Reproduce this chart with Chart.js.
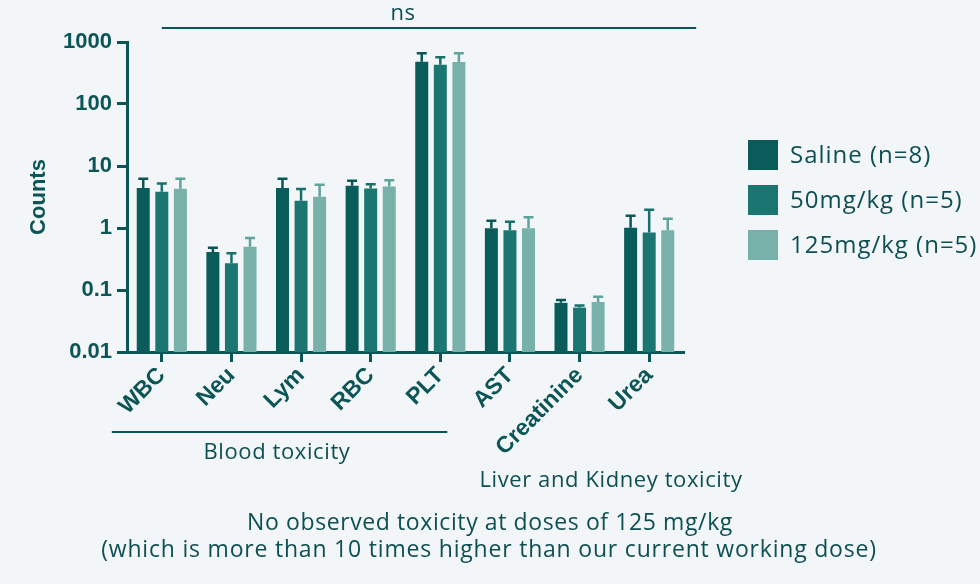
<!DOCTYPE html>
<html>
<head>
<meta charset="utf-8">
<script src="https://cdn.jsdelivr.net/npm/chart.js@4.4.1/dist/chart.umd.min.js"></script>
<style>
  html, body { margin: 0; padding: 0; background: #f3f6f9; }
  #wrap { position: relative; width: 980px; height: 584px; }
</style>
</head>
<body>
<div id="wrap"><canvas id="grafico"></canvas></div>
<script>
// Datos
const categorias = ['WBC', 'Neu', 'Lym', 'RBC', 'PLT', 'AST', 'Creatinine', 'Urea'];
const saline = [4.4, 0.41, 4.4, 4.8, 480, 0.99, 0.062, 1.01];
const salineSup = [6.2, 0.48, 6.2, 5.8, 660, 1.31, 0.069, 1.58];
const mg50 = [3.85, 0.27, 2.75, 4.35, 430, 0.92, 0.052, 0.85];
const mg50Sup = [5.2, 0.39, 4.25, 5.1, 570, 1.26, 0.056, 1.97];
const mg125 = [4.3, 0.50, 3.2, 4.65, 475, 0.99, 0.064, 0.92];
const mg125Sup = [6.2, 0.69, 5.0, 5.9, 660, 1.49, 0.078, 1.41];
const yTicks = [0.01, 0.1, 1, 10, 100, 1000];
const yTickLabels = ['0.01', '0.1', '1', '10', '100', '1000'];

const tinta = '#0b5556';
const texto = '#0d4f52';

// Barras de error (solo hacia arriba)
const barrasError = {
    id: 'barrasError',
    afterDatasetsDraw(chart) {
        const ctx = chart.ctx;
        const y = chart.scales.y;
        chart.data.datasets.forEach((ds, i) => {
            const meta = chart.getDatasetMeta(i);
            ctx.save();
            ctx.strokeStyle = ds.errorColor;
            ctx.lineWidth = 2.5;
            meta.data.forEach((bar, j) => {
                const top = y.getPixelForValue(ds.upper[j]);
                ctx.beginPath();
                ctx.moveTo(bar.x, bar.y);
                ctx.lineTo(bar.x, top);
                ctx.moveTo(bar.x - 5, top);
                ctx.lineTo(bar.x + 5, top);
                ctx.stroke();
            });
            ctx.restore();
        });
    }
};

// Anotaciones, leyenda y textos
const anotaciones = {
    id: 'anotaciones',
    afterDraw(chart) {
        const ctx = chart.ctx;
        const x = chart.scales.x;
        ctx.save();
        ctx.strokeStyle = tinta;
        ctx.lineWidth = 2;
        // línea ns
        ctx.beginPath();
        ctx.moveTo(x.getPixelForValue(0), 28);
        ctx.lineTo(x.getPixelForValue(7) + 47, 28);
        ctx.stroke();
        // línea Blood toxicity
        ctx.beginPath();
        ctx.moveTo(x.getPixelForValue(0) - 50, 432);
        ctx.lineTo(x.getPixelForValue(4) + 7, 432);
        ctx.stroke();

        ctx.fillStyle = texto;
        ctx.textAlign = 'center';
        ctx.textBaseline = 'middle';
        ctx.letterSpacing = '0.6px';
        ctx.font = '22px "Open Sans"';
        ctx.fillText('ns', 403, 14);
        ctx.fillText('Blood toxicity', 277, 453);
        ctx.fillText('Liver and Kidney toxicity', 611, 481);
        ctx.font = '23px "Open Sans"';
        ctx.fillText('No observed toxicity at doses of 125 mg/kg', 490, 523);
        ctx.letterSpacing = '0.8px';
        ctx.fillText('(which is more than 10 times higher than our current working dose)', 489, 550);

        // leyenda
        ctx.textAlign = 'left';
        ctx.letterSpacing = '1px';
        ctx.font = '24px "Open Sans"';
        chart.data.datasets.forEach((ds, i) => {
            const cy = 155 + i * 45;
            ctx.fillStyle = ds.backgroundColor;
            ctx.fillRect(748, cy - 15, 30, 30);
            ctx.fillStyle = texto;
            ctx.fillText(ds.label, 790, cy + 1);
        });
        ctx.restore();
    }
};

const config = {
    type: 'bar',
    data: {
        labels: categorias,
        datasets: [
            { label: 'Saline (n=8)', data: saline, upper: salineSup, backgroundColor: '#0a5c5b', errorColor: '#0a5657' },
            { label: '50mg/kg (n=5)', data: mg50, upper: mg50Sup, backgroundColor: '#1b7671', errorColor: '#16706b' },
            { label: '125mg/kg (n=5)', data: mg125, upper: mg125Sup, backgroundColor: '#77b1aa', errorColor: '#5fa39b' }
        ]
    },
    options: {
        responsive: true,
        maintainAspectRatio: false,
        animation: false,
        categoryPercentage: 0.8,
        barPercentage: 0.7,
        layout: { padding: { top: 42, right: 296, left: 0, bottom: 0 } },
        plugins: {
            legend: { display: false },
            tooltip: { enabled: false }
        },
        scales: {
            x: {
                afterFit(scale) { scale.height = 232; },
                grid: { offset: false, drawOnChartArea: false, drawTicks: true, tickLength: 10, tickWidth: 3, tickColor: tinta },
                border: { display: true, width: 3, color: tinta },
                ticks: {
                    autoSkip: false,
                    minRotation: 45,
                    maxRotation: 45,
                    padding: 0,
                    color: tinta,
                    font: { family: '"Liberation Sans", Arial', size: 23, weight: 'bold' }
                }
            },
            y: {
                type: 'logarithmic',
                min: 0.01,
                max: 1000,
                afterFit(scale) { scale.width = 127; },
                afterBuildTicks(scale) { scale.ticks = yTicks.map(v => ({ value: v })); },
                grid: { drawOnChartArea: false, drawTicks: true, tickLength: 10, tickWidth: 3, tickColor: tinta },
                border: { display: true, width: 3, color: tinta },
                ticks: {
                    padding: 5,
                    color: tinta,
                    font: { family: '"Liberation Sans", Arial', size: 22, weight: 'bold' },
                    callback: (v, i) => yTickLabels[i]
                },
                title: {
                    display: true,
                    text: 'Counts',
                    color: tinta,
                    padding: { top: 26, bottom: 0 },
                    font: { family: '"Liberation Sans", Arial', size: 22, weight: 'bold' }
                }
            }
        }
    },
    plugins: [barrasError, anotaciones]
};

const ctx = document.getElementById('grafico').getContext('2d');
const grafico = new Chart(ctx, config);
</script>
</body>
</html>
